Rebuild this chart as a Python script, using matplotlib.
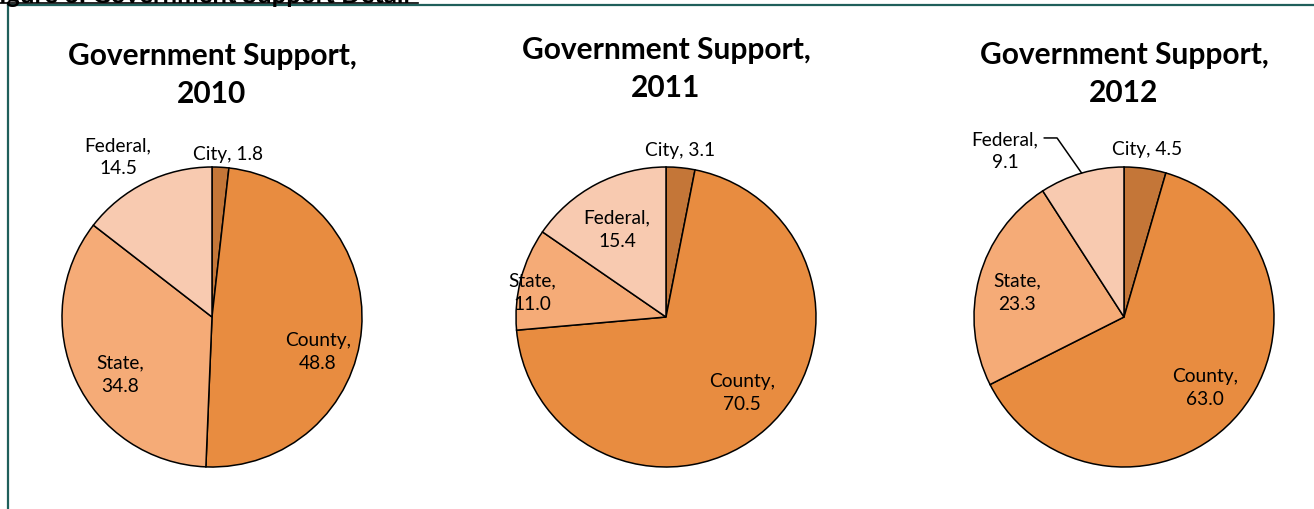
import matplotlib
matplotlib.use('Agg')
import matplotlib.pyplot as plt
from matplotlib.lines import Line2D
import numpy as np

# Data
years = ['2010', '2011', '2012']
categories = ['City', 'County', 'State', 'Federal']
support_2010 = [1.8, 48.8, 34.8, 14.5]
support_2011 = [3.1, 70.5, 11.0, 15.4]
support_2012 = [4.5, 63.0, 23.3, 9.1]
all_support = [support_2010, support_2011, support_2012]

colors = ['#C47638', '#E88C40', '#F5AB77', '#F8CAB0']

W, H = 1314, 510
R = 150  # pie radius in px
centers = [(212, 318), (666, 318), (1124, 318)]
title_y = [75, 69, 74]

# label positions in pie units (radius = 1), per pie, in category order
label_pos = [
    [(0.107, 1.087), (0.707, -0.227), (-0.613, -0.38), (-0.627, 1.073)],
    [(0.093, 1.12), (0.507, -0.5), (-0.893, 0.167), (-0.327, 0.587)],
    [(0.153, 1.12), (0.54, -0.467), (-0.713, 0.167), (-0.793, 1.113)],
]
one_line = ['City']

plt.rcParams['font.family'] = ['Lato', 'DejaVu Sans']

fig = plt.figure(figsize=(W / 100, H / 100), dpi=100)

half = 220
for i, (vals, (cx, cy)) in enumerate(zip(all_support, centers)):
    ax = fig.add_axes([(cx - half) / W, (H - cy - half) / H, 2 * half / W, 2 * half / H])
    wedges, _ = ax.pie(vals, colors=colors, startangle=90, counterclock=False,
                       radius=1, wedgeprops=dict(edgecolor='black', linewidth=1.1))
    ax.set_xlim(-half / R, half / R)
    ax.set_ylim(-half / R, half / R)
    ax.set_aspect('equal')
    ax.axis('off')
    for j, (cat, v) in enumerate(zip(categories, vals)):
        sep = ', ' if cat in one_line else ',\n'
        lx, ly = label_pos[i][j]
        txt = f'{cat}{sep}{v:.1f}'
        if i == 2 and cat == 'Federal':
            w = wedges[j]
            ang = np.deg2rad((w.theta1 + w.theta2) / 2)
            ax.annotate(txt, xy=(np.cos(ang), np.sin(ang)), xytext=(lx, ly),
                        ha='center', va='center', fontsize=13.8, linespacing=1.45,
                        arrowprops=dict(arrowstyle='-', color='black', lw=1.1,
                                        connectionstyle='angle,angleA=0,angleB=-55,rad=0',
                                        shrinkA=2, shrinkB=0, relpos=(1.0, 0.8)))
        else:
            ax.text(lx, ly, txt, ha='center', va='center', fontsize=13.8, linespacing=1.45)
    fig.text(cx / W, 1 - title_y[i] / H, f'Government Support,\n{years[i]}',
             ha='center', va='center', fontsize=21.5, fontweight='bold', linespacing=1.45)

# cut-off figure caption and frame
fig.text(-15 / W, 1 - 3 / H, 'Figure 6: Government Support Detail', ha='left',
         va='baseline', fontsize=18.5, fontweight='bold')
fig.add_artist(Line2D([0, 418 / W], [1 - 3.8 / H] * 2, color='black', lw=1.2,
                      transform=fig.transFigure))
frame = '#1F5F5B'
fig.add_artist(Line2D([8 / W, 1], [1 - 5.5 / H] * 2, color=frame, lw=1.6,
                      transform=fig.transFigure))
fig.add_artist(Line2D([8 / W, 8 / W], [0, 1 - 5.5 / H], color=frame, lw=1.6,
                      transform=fig.transFigure))

fig.savefig('out.png', dpi=100)
